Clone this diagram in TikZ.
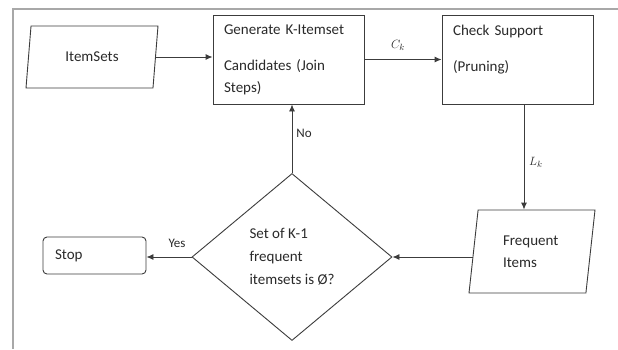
\documentclass[tikz,border=0pt]{standalone}
\usepackage{fontspec}
\setmainfont{Carlito}
\usetikzlibrary{shapes.geometric,arrows.meta}
\definecolor{linegray}{HTML}{3C3C3C}
\definecolor{framegray}{HTML}{A8A8A8}
\definecolor{textgray}{HTML}{2A2A2A}
\tikzset{
  flowline/.style={draw=linegray,line width=0.9pt},
  flowarrow/.style={flowline,-{Latex[length=7pt,width=6pt]}},
  procbox/.style={flowline,rectangle,minimum height=89pt,text width=129pt,inner xsep=11pt,inner ysep=0pt,align=left,text=textgray,font=\fontsize{15}{22}\selectfont},
  iobox/.style={flowline,trapezium,trapezium stretches body,trapezium left angle=#1,trapezium right angle=180-#1,inner sep=0pt,align=left,text=textgray,font=\fontsize{15}{22}\selectfont},
  decbox/.style={flowline,diamond,minimum width=200pt,minimum height=167pt,inner sep=0pt,align=left,text=textgray,font=\fontsize{15}{23}\selectfont},
  endbox/.style={flowline,rectangle,rounded corners=4pt,minimum height=37pt,text width=79pt,inner xsep=12pt,align=left,text=textgray,font=\fontsize{15}{18}\selectfont},
  edgelabel/.style={text=textgray,font=\fontsize{13}{15}\selectfont,inner sep=0pt}
}
\begin{document}
\begin{tikzpicture}[x=1pt,y=-1pt]
  \useasboundingbox(0,0)rectangle(618,349);
  \fill[white](0,0)rectangle(618,349);
  \draw[framegray,line width=1.6pt](13,349)--(13,9)--(618,9);
  \node[iobox=63,minimum width=132pt,minimum height=62pt](itemsets)at(92,57){ItemSets};
  \node[procbox](generate)at(288.5,59.5){Generate K-Itemset\\[14pt]Candidates (Join\\Steps)};
  \node[procbox](check)at(517.5,59.5){Check Support\\[14pt](Pruning)\\\mbox{}};
  \node[iobox=74,minimum width=126pt,minimum height=83pt,text width=58pt](frequent)at(532,251.5){Frequent\\Items};
  \node[decbox](empty)at(292,257){Set of K-1\\frequent\\itemsets is Ø?};
  \node[endbox](stop)at(94.5,255.5){Stop};
  \draw[flowarrow](itemsets.east)--(itemsets.east-|generate.west);
  \draw[flowarrow](generate.east)--(check.west);
  \draw[flowarrow]([xshift=6.5pt]check.south)--([xshift=6.5pt]check.south|-frequent.north);
  \draw[flowarrow](empty.east-|frequent.west)--(empty.east);
  \draw[flowarrow](empty.west)--(empty.west-|stop.east);
  \draw[flowarrow](empty.north)--(empty.north|-generate.south);
  \node[edgelabel](ck)at(398,45){$C_k$};
  \node[edgelabel](lk)at(536,162){$L_k$};
  \node[edgelabel](yes)at(177,243){Yes};
  \node[edgelabel](no)at(304,133){No};
\end{tikzpicture}
\end{document}
